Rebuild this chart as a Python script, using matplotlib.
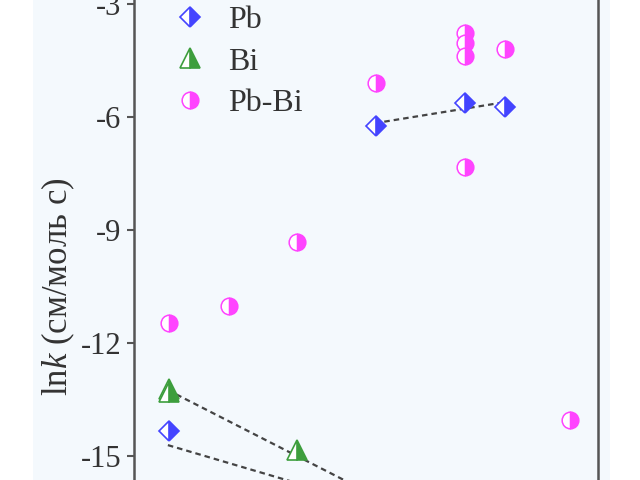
import matplotlib
matplotlib.use("Agg")
import matplotlib.pyplot as plt
from matplotlib.patches import Rectangle

plt.rcParams['font.family'] = ['Liberation Serif', 'DejaVu Serif']
plt.rcParams['mathtext.fontset'] = 'custom'
plt.rcParams['mathtext.rm'] = 'Liberation Serif'
plt.rcParams['mathtext.it'] = 'Liberation Serif:italic'
plt.rcParams['axes.unicode_minus'] = False

# data (x in arbitrary units)
pb_x = [0.75, 5.22, 7.13, 8.0]
pb_y = [-14.33, -6.24, -5.63, -5.73]
bi_x = [0.75, 0.75, 3.51]
bi_y = [-13.21, -13.29, -14.83]
pbbi_x = [0.75, 2.05, 3.51, 5.22, 7.13, 7.13, 7.13, 7.13, 8.0, 9.4]
pbbi_y = [-11.46, -11.01, -9.31, -5.10, -3.77, -4.03, -4.38, -7.32, -4.19, -14.03]

# dashed fit lines
fit_pb_low_x = [0.73, 5.2]
fit_pb_low_y = [-14.70, -16.32]
fit_bi_x = [0.73, 5.2]
fit_bi_y = [-13.24, -16.05]
fit_pb_high_x = [5.19, 8.0]
fit_pb_high_y = [-6.16, -5.60]

yticks = [-15, -12, -9, -6, -3]

fig = plt.figure(figsize=(6.4, 4.8), dpi=100)
fig.patch.set_facecolor('white')
fig.patches.append(Rectangle((33/640, 0), (610-33)/640, 1, transform=fig.transFigure,
                             facecolor='#f4f9fd', edgecolor='none', zorder=-10))

# the axes run past the top and bottom of the figure (cropped view)
ax = fig.add_axes([134/640, -0.265, (598-134)/640, 1.335])
ax.set_facecolor('none')

blue = '#4444ff'
green = '#3d9e3d'
magenta = '#ff44ff'
dark = '#444444'

ax.plot(fit_pb_low_x, fit_pb_low_y, linestyle=(0, (2.5, 1.8)), color=dark, lw=1.6, zorder=2)
ax.plot(fit_bi_x, fit_bi_y, linestyle=(0, (2.5, 1.8)), color=dark, lw=1.6, zorder=2)
ax.plot(fit_pb_high_x, fit_pb_high_y, linestyle=(0, (2.5, 1.8)), color=dark, lw=1.6, zorder=2)

ax.plot(pb_x, pb_y, linestyle='none', marker='D', ms=10.5, fillstyle='right',
        color=blue, markerfacecoloralt='white', markeredgecolor=blue, mew=1.2,
        label='Pb', zorder=3)
ax.plot(bi_x, bi_y, linestyle='none', marker='^', ms=14, fillstyle='right',
        color=green, markerfacecoloralt='white', markeredgecolor=green, mew=1.2,
        label='Bi', zorder=3)
ax.plot(pbbi_x, pbbi_y, linestyle='none', marker='o', ms=12, fillstyle='right',
        color=magenta, markerfacecoloralt='white', markeredgecolor=magenta, mew=1.1,
        label='Pb-Bi', zorder=3)

ax.set_yticks(yticks)
ax.set_yticklabels([str(t) for t in yticks])
ax.set_xticks([])
ax.set_xlim(0, 10)
ax.set_ylim(-19, -2)
ax.tick_params(axis='y', labelsize=22, length=5, width=1.5, color='#555555',
               labelcolor='#333333', pad=4)
for side in ['left', 'right', 'top', 'bottom']:
    ax.spines[side].set_color('#555555')
    ax.spines[side].set_linewidth(1.8)

ax.set_ylabel('ln$k$ (см/моль с)', fontsize=25, color='#333333', labelpad=3)

ax.legend(loc='upper left', bbox_to_anchor=(142/640, 1.048), bbox_transform=fig.transFigure,
          frameon=False, fontsize=23, handletextpad=0.6, labelspacing=0.38,
          handlelength=1.2, labelcolor='#333333')

fig.savefig('out.png', dpi=100)
